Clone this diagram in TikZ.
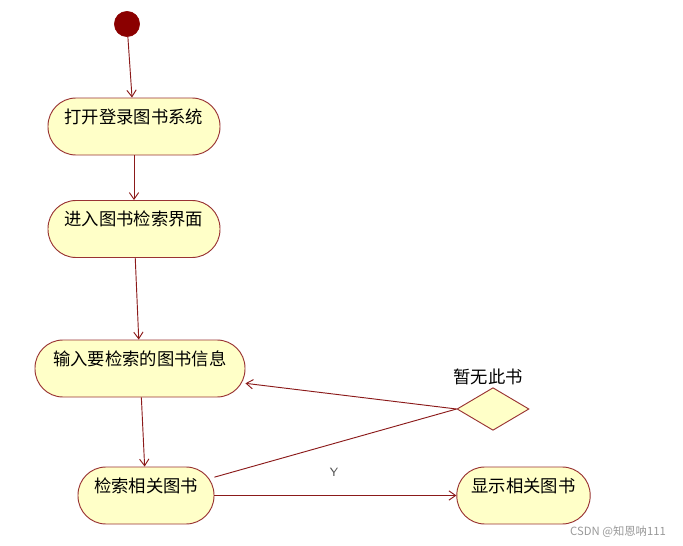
\documentclass[tikz,border=0pt]{standalone}
\usepackage{fontspec}
\usepackage{tikz}
\usetikzlibrary{arrows.meta,shapes.geometric}
\newfontfamily\cjk{Noto Sans CJK SC}
\definecolor{actfill}{HTML}{FFFFC8}
\definecolor{actline}{HTML}{993333}
\definecolor{flowline}{HTML}{8B1A1A}
\definecolor{startred}{HTML}{8B0000}

\begin{document}
\begin{tikzpicture}[x=0.75pt,y=-0.75pt]
  \tikzset{activity/.style={rectangle,rounded corners=21pt,draw=actline,fill=actfill,line width=0.7pt,inner sep=0pt,text height=19pt,text depth=23.75pt,font=\cjk\fontsize{13}{15}\selectfont,text=black}}
  \tikzset{startnode/.style={circle,fill=startred,draw=startred,inner sep=0pt,minimum size=19pt}}
  \tikzset{decision/.style={diamond,draw=actline,fill=actfill,line width=0.7pt,inner sep=0pt,minimum width=54pt,minimum height=32pt}}
  \tikzset{flow/.style={draw=flowline,line width=0.7pt,-{Straight Barb[length=5pt,width=7pt]}}}
  \tikzset{plainflow/.style={draw=flowline,line width=0.7pt}}
  \tikzset{flowlabel/.style={font=\cjk\fontsize{13}{15}\selectfont,inner sep=1pt,text=black}}
  \useasboundingbox (0,0) rectangle (683,546);
  \node[startnode] (start) at (127,24) {};
  \node[activity,minimum width=129pt] (open) at (134,126.5) {打开登录图书系统};
  \node[activity,minimum width=129pt] (enter) at (134,229) {进入图书检索界面};
  \node[activity,minimum width=157.5pt] (input) at (140,368.5) {输入要检索的图书信息};
  \node[activity,minimum width=102pt] (search) at (146,495.5) {检索相关图书};
  \node[activity,minimum width=100pt] (show) at (523.5,495.5) {显示相关图书};
  \node[decision] (check) at (493,409) {};
  \node[flowlabel] (nobook) at (488,377) {暂无此书};
  \draw[flow] (start) -- (open);
  \draw[flow] (open) -- (enter);
  \draw[flow] (enter) -- (input);
  \draw[flow] (input) -- (search);
  \draw[plainflow] (search.15) -- (check.west);
  \draw[flow] (check.west) -- (input.-8);
  \draw[flow] (search.east) -- (show.west);
  \node[font=\sffamily\fontsize{9}{10}\selectfont,text=black!70] (ylabel) at (334,472) {Y};
  \node[font=\cjk\fontsize{8.5}{10}\selectfont,text=black!40] (mark) at (618,532) {CSDN @知恩呐111};
\end{tikzpicture}
\end{document}
